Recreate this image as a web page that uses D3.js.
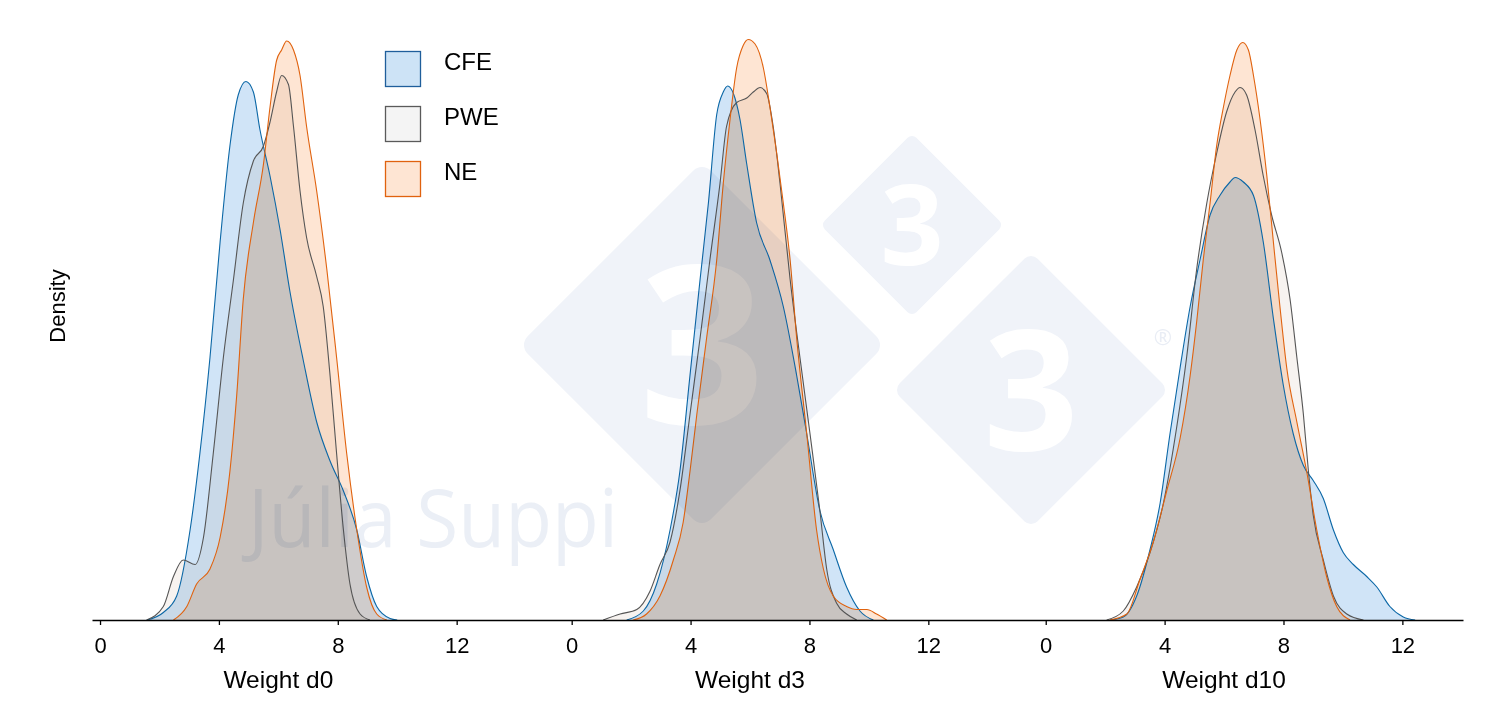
<!DOCTYPE html>
<html>
<head>
<meta charset="utf-8">
<script src="https://cdn.jsdelivr.net/npm/d3@7"></script>
<style>
  html, body { margin: 0; padding: 0; background: #fff; }
  svg { display: block; font-family: "Liberation Sans", Arial, sans-serif; }
</style>
</head>
<body>
<svg id="chart" width="1510" height="709"></svg>
<script>
'use strict';

// groups and panels
const groups = ['CFE', 'PWE', 'NE'];
const panelLabels = ['Weight d0', 'Weight d3', 'Weight d10'];
const tickValues = [0, 4, 8, 12];
// where each panel's zero sits on the shared axis (axis units)
const panelOffsets = [0, 15.87, 31.82];

// KDE curves: [weight, density]
const cfeD0 = [[1.57, 0], [2.13, .005], [2.58, .016], [3.03, .060], [3.36, .111], [3.70, .175], [4.04, .252], [4.37, .316], [4.65, .350], [4.91, .359], [5.16, .352], [5.38, .327], [5.72, .296], [6.06, .260], [6.39, .219], [6.84, .173], [7.29, .132], [7.74, .106], [8.19, .086], [8.64, .060], [8.97, .029], [9.31, .009], [9.76, .001], [10.0, 0]];
const pweD0 = [[1.57, 0], [2.13, .009], [2.47, .029], [2.80, .040], [3.20, .037], [3.48, .055], [3.81, .111], [4.15, .175], [4.49, .227], [4.82, .278], [5.16, .306], [5.50, .316], [5.72, .332], [5.94, .352], [6.11, .363], [6.34, .357], [6.51, .329], [6.73, .286], [6.95, .255], [7.29, .229], [7.51, .209], [7.74, .163], [7.96, .111], [8.19, .060], [8.41, .024], [8.75, .004], [9.08, 0]];
const neD0 = [[2.47, 0], [2.92, .009], [3.25, .024], [3.70, .034], [4.04, .055], [4.37, .099], [4.60, .150], [4.82, .214], [5.16, .265], [5.50, .304], [5.72, .342], [5.94, .373], [6.11, .380], [6.28, .386], [6.51, .380], [6.73, .363], [6.95, .329], [7.29, .286], [7.63, .234], [7.96, .175], [8.30, .111], [8.64, .060], [8.97, .022], [9.31, .004], [9.65, 0]];

const cfeD3 = [[1.85, 0], [2.41, .006], [2.86, .024], [3.31, .060], [3.64, .099], [3.98, .163], [4.32, .227], [4.60, .278], [4.88, .337], [5.10, .352], [5.25, .356], [5.44, .351], [5.66, .334], [5.89, .304], [6.22, .265], [6.67, .240], [7.12, .209], [7.57, .163], [7.91, .124], [8.35, .073], [8.80, .047], [9.25, .022], [9.70, .006], [10.15, 0]];
const pweD3 = [[1.06, 0], [1.63, .004], [2.19, .007], [2.63, .019], [2.97, .037], [3.31, .052], [3.64, .086], [3.98, .137], [4.32, .188], [4.65, .240], [4.99, .291], [5.21, .329], [5.55, .345], [5.89, .348], [6.11, .352], [6.34, .355], [6.56, .351], [6.78, .329], [7.01, .291], [7.35, .227], [7.68, .175], [8.02, .124], [8.35, .073], [8.58, .034], [8.92, .011], [9.25, .004], [9.59, 0]];
const neD3 = [[2.07, 0], [2.52, .004], [2.97, .016], [3.42, .040], [3.75, .065], [3.98, .099], [4.21, .137], [4.54, .188], [4.88, .240], [5.10, .291], [5.33, .334], [5.55, .368], [5.77, .383], [5.94, .387], [6.17, .384], [6.45, .368], [6.67, .342], [6.90, .311], [7.12, .278], [7.35, .240], [7.57, .188], [7.91, .124], [8.24, .060], [8.47, .034], [8.80, .016], [9.25, .009], [9.59, .007], [9.93, .007], [10.26, .004], [10.60, 0]];

const cfeD10 = [[2.16, 0], [2.61, .002], [3.06, .016], [3.51, .047], [3.85, .078], [4.18, .124], [4.52, .168], [4.86, .209], [5.19, .240], [5.53, .270], [5.86, .283], [6.20, .292], [6.37, .295], [6.65, .292], [6.99, .283], [7.32, .252], [7.66, .201], [7.99, .157], [8.33, .124], [8.67, .103], [9.00, .093], [9.34, .081], [9.68, .060], [10.01, .045], [10.35, .037], [10.80, .029], [11.14, .022], [11.58, .009], [12.03, .002], [12.43, 0]];
const pweD10 = [[2.05, 0], [2.61, .006], [3.06, .022], [3.51, .045], [3.96, .078], [4.41, .129], [4.74, .175], [5.08, .234], [5.42, .278], [5.75, .311], [6.09, .339], [6.37, .352], [6.54, .355], [6.76, .350], [7.04, .327], [7.32, .296], [7.60, .270], [7.94, .245], [8.22, .214], [8.45, .175], [8.67, .137], [8.84, .099], [9.00, .070], [9.34, .040], [9.68, .016], [10.13, .004], [10.69, 0]];
const neD10 = [[2.16, 0], [2.73, .004], [3.17, .027], [3.62, .052], [4.07, .086], [4.52, .121], [4.86, .163], [5.08, .199], [5.30, .240], [5.53, .278], [5.75, .316], [5.98, .342], [6.20, .363], [6.43, .380], [6.63, .385], [6.82, .380], [6.99, .363], [7.21, .334], [7.44, .296], [7.66, .252], [7.88, .209], [8.11, .168], [8.45, .132], [8.78, .099], [9.12, .060], [9.45, .029], [9.79, .009], [10.24, 0]];

const curves = [
  [cfeD0, pweD0, neD0],
  [cfeD3, pweD3, neD3],
  [cfeD10, pweD10, neD10]
];

const fillColors = { CFE: '#d0e4f7', PWE: '#f7f3f0', NE: '#fee5d3' };
const lineColors = { CFE: '#0b67a6', PWE: '#555555', NE: '#e0620e' };
const legendFill = { CFE: '#cde3f6', PWE: '#f4f4f4', NE: '#fee5d3' };
const legendStroke = { CFE: '#1f5e9b', PWE: '#5a5a5a', NE: '#e0620e' };

const svg = d3.select('#chart');

// one shared axis for the three panels
const x = d3.scaleLinear().domain([-0.27, 45.86]).range([92, 1463]);
const y = d3.scaleLinear().domain([0, 0.4]).range([620, 20]);

const plot = svg.append('g');

const area = off => d3.area()
  .x(d => x(d[0] + off))
  .y0(y(0))
  .y1(d => y(d[1]))
  .curve(d3.curveMonotoneX);

const line = off => d3.line()
  .x(d => x(d[0] + off))
  .y(d => y(d[1]))
  .curve(d3.curveMonotoneX);

curves.forEach((set, p) => {
  const off = panelOffsets[p];
  const g = plot.append('g');
  set.forEach((data, i) => {
    g.append('path')
      .datum(data)
      .attr('d', area(off))
      .attr('fill', fillColors[groups[i]])
      .style('mix-blend-mode', 'multiply');
  });
  set.forEach((data, i) => {
    g.append('path')
      .datum(data)
      .attr('d', line(off))
      .attr('fill', 'none')
      .attr('stroke', lineColors[groups[i]])
      .attr('stroke-width', 1.1);
  });
});

// x axis, ticks restart at every panel
const allTicks = [];
panelOffsets.forEach(off => tickValues.forEach(t => allTicks.push({ v: t + off, label: t })));

const xAxis = svg.append('g')
  .attr('transform', `translate(0,${y(0)})`)
  .call(d3.axisBottom(x)
    .tickValues(allTicks.map(t => t.v))
    .tickFormat((d, i) => allTicks[i].label)
    .tickSize(5)
    .tickSizeOuter(0)
    .tickPadding(12));
xAxis.select('.domain').attr('stroke', '#000').attr('stroke-width', 1.3);
xAxis.selectAll('.tick line').attr('stroke', '#000').attr('stroke-width', 1.3);
xAxis.selectAll('.tick text')
  .attr('fill', '#000')
  .style('font-family', '"Liberation Sans", Arial, sans-serif')
  .style('font-size', '22px');

panelLabels.forEach((label, p) => {
  svg.append('text')
    .attr('x', x(6 + panelOffsets[p]))
    .attr('y', 688)
    .attr('text-anchor', 'middle')
    .style('font-size', '24.5px')
    .text(label);
});

svg.append('text')
  .attr('transform', 'translate(65,306) rotate(-90)')
  .attr('text-anchor', 'middle')
  .style('font-size', '22px')
  .text('Density');

// legend
const legend = svg.append('g').attr('transform', 'translate(385,51)');
groups.forEach((grp, i) => {
  const row = legend.append('g').attr('transform', `translate(0,${i * 55})`);
  row.append('rect')
    .attr('x', 0.5).attr('y', 0.5)
    .attr('width', 35).attr('height', 35)
    .attr('fill', legendFill[grp])
    .attr('stroke', legendStroke[grp])
    .attr('stroke-width', 1.3);
  row.append('text')
    .attr('x', 59)
    .attr('y', 19)
    .style('font-size', '24px')
    .text(grp);
});

// watermark, multiplied over the chart
const wm = svg.append('g').style('mix-blend-mode', 'multiply');
const wmColor = '#f0f3f9';
[[702, 345, 178], [912, 225, 89], [1031, 390, 134]].forEach(([cx, cy, half]) => {
  const r = half * 0.07;
  const side = 2 * ((half - r) / Math.SQRT2 + r);
  wm.append('rect')
    .attr('x', -side / 2).attr('y', -side / 2)
    .attr('width', side).attr('height', side)
    .attr('rx', r)
    .attr('transform', `translate(${cx},${cy}) rotate(45)`)
    .attr('fill', wmColor);
  wm.append('text')
    .attr('x', cx)
    .attr('y', cy + half * 0.445)
    .attr('text-anchor', 'middle')
    .style('font-family', '"Open Sans", "Noto Sans", sans-serif')
    .style('font-weight', 'bold')
    .style('font-size', `${half * 1.24}px`)
    .attr('fill', '#fff')
    .text('3');
});
wm.append('text')
  .attr('x', 1163).attr('y', 345)
  .attr('text-anchor', 'middle')
  .style('font-family', '"Open Sans", sans-serif')
  .style('font-size', '22px')
  .attr('fill', '#e9edf5')
  .text('®');
wm.append('text')
  .attr('x', 248).attr('y', 547)
  .attr('textLength', 370)
  .attr('lengthAdjust', 'spacingAndGlyphs')
  .style('font-family', '"Open Sans", sans-serif')
  .style('font-size', '80px')
  .attr('fill', '#ebeff6')
  .text('Júlia Suppi');
</script>
</body>
</html>
